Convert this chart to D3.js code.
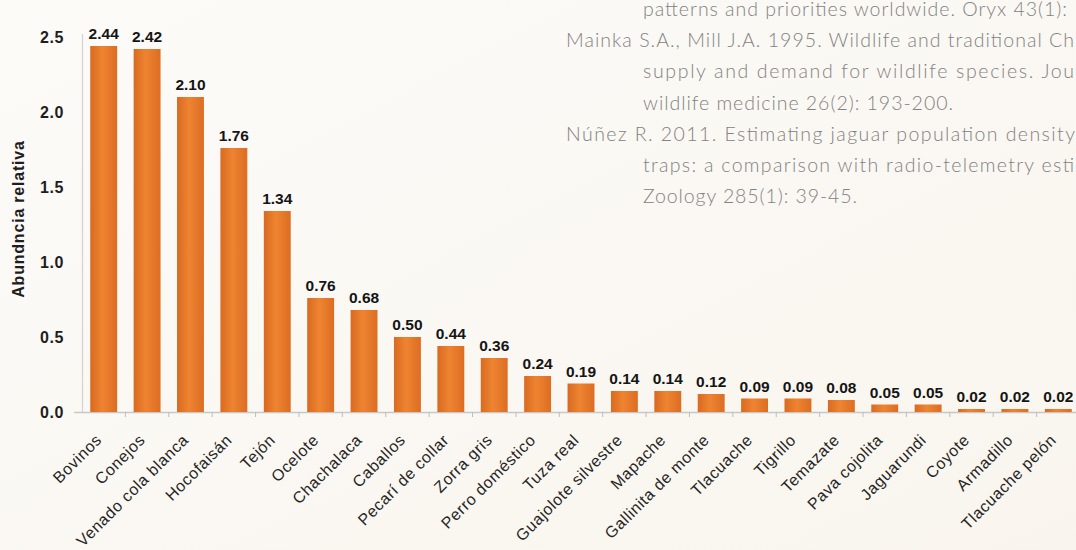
<!DOCTYPE html>
<html>
<head>
<meta charset="utf-8">
<script src="https://cdn.jsdelivr.net/npm/d3@7/dist/d3.min.js"></script>
<style>
html,body{margin:0;padding:0;background:#fbf9f5;overflow:hidden;}
svg{display:block;}
</style>
</head>
<body>
<svg id="chart" width="1076" height="550"></svg>
<script>
const categories = ["Bovinos","Conejos","Venado cola blanca","Hocofaisán","Tejón","Ocelote","Chachalaca","Caballos","Pecarí de collar","Zorra gris","Perro doméstico","Tuza real","Guajolote silvestre","Mapache","Gallinita de monte","Tlacuache","Tigrillo","Temazate","Pava cojolita","Jaguarundi","Coyote","Armadillo","Tlacuache pelón"];
const values = [2.44,2.42,2.10,1.76,1.34,0.76,0.68,0.50,0.44,0.36,0.24,0.19,0.14,0.14,0.12,0.09,0.09,0.08,0.05,0.05,0.02,0.02,0.02];
const yTicks = [0,0.5,1.0,1.5,2.0,2.5];
const yTitle = "Abundncia relativa";
// background page text, as far as it is visible in the picture
const refLines = [
  {indent:false, end:1067, text:"patterns and priorities worldwide. Oryx 43(1):"},
  {indent:true,  end:1074, text:"Mainka S.A., Mill J.A. 1995. Wildlife and traditional Ch"},
  {indent:false, end:1074, text:"supply and demand for wildlife species. Jou"},
  {indent:false, end:953,  text:"wildlife medicine 26(2): 193-200."},
  {indent:true,  end:1075, text:"Núñez R. 2011. Estimating jaguar population density"},
  {indent:false, end:1074, text:"traps: a comparison with radio-telemetry esti"},
  {indent:false, end:857,  text:"Zoology 285(1): 39-45."}
];

const svg = d3.select("#chart");
const W = 1076, H = 550;

const defs = svg.append("defs");
const bg = defs.append("linearGradient").attr("id","bg").attr("x1","0").attr("y1","0").attr("x2","1").attr("y2","1");
bg.append("stop").attr("offset","0").attr("stop-color","#fcfbf8");
bg.append("stop").attr("offset","1").attr("stop-color","#f9f5ee");
svg.append("rect").attr("width",W).attr("height",H).attr("fill","url(#bg)");

const barGrad = defs.append("linearGradient").attr("id","barg").attr("x1","0").attr("y1","0").attr("x2","1").attr("y2","0");
barGrad.append("stop").attr("offset","0").attr("stop-color","#d96a20");
barGrad.append("stop").attr("offset","0.45").attr("stop-color","#ee8431");
barGrad.append("stop").attr("offset","1").attr("stop-color","#dc6d23");

// background reference text
const refG = svg.append("g")
  .attr("font-family","Lato, 'Open Sans', sans-serif")
  .attr("font-weight",300)
  .attr("font-size",19.5)
  .attr("fill","#828282");
refG.selectAll("text").data(refLines).join("text")
  .attr("x", d => d.indent ? 566 : 643)
  .attr("y", (d,i) => 16 + i*31.2)
  .attr("textLength", d => d.end - (d.indent ? 566 : 643))
  .attr("lengthAdjust","spacing")
  .text(d => d.text);

const x0 = 82, x1 = 1080, yBase = 412, yTop = 37;
const x = d3.scaleBand().domain(categories).range([x0, x1]).paddingInner(0.38).paddingOuter(0.19);
const y = d3.scaleLinear().domain([0, 2.5]).range([yBase, yTop]);

// axis lines
svg.append("line").attr("x1",x0+0.5).attr("x2",x0+0.5).attr("y1",yTop-3).attr("y2",yBase)
  .attr("stroke","#d2d2d2").attr("stroke-width",1.2);
svg.append("line").attr("x1",x0-8).attr("x2",x1).attr("y1",yBase+0.5).attr("y2",yBase+0.5)
  .attr("stroke","#c8c8c8").attr("stroke-width",1.5);

// x ticks at band boundaries
const bounds = categories.slice(1).map((c,i) => (x(categories[i]) + x.bandwidth() + x(c)) / 2);
svg.append("g").selectAll("line").data(bounds).join("line")
  .attr("x1", d=>d).attr("x2", d=>d).attr("y1", yBase).attr("y2", yBase+5)
  .attr("stroke","#bdbdbd").attr("stroke-width",1);

// y axis labels
const yAxis = svg.append("g").attr("transform",`translate(${x0},0)`)
  .call(d3.axisLeft(y).tickValues(yTicks).tickFormat(d3.format(".1f")).tickSize(0).tickPadding(18));
yAxis.select(".domain").remove();
yAxis.selectAll("text")
  .attr("font-family","'Liberation Sans', Arial, sans-serif")
  .attr("font-weight","bold").attr("font-size",16).attr("letter-spacing",0.6).attr("fill","#1e1e1e");

// y title
svg.append("text")
  .attr("transform","translate(24,219) rotate(-90)")
  .attr("text-anchor","middle")
  .attr("font-family","'Liberation Sans', Arial, sans-serif")
  .attr("font-weight","bold").attr("font-size",16).attr("letter-spacing",0.8).attr("fill","#1e1e1e")
  .text(yTitle);

// bars
svg.append("g").selectAll("rect").data(values).join("rect")
  .attr("x", (d,i) => x(categories[i]))
  .attr("width", x.bandwidth())
  .attr("y", d => y(d))
  .attr("height", d => Math.max(1.5, yBase - y(d)))
  .attr("fill","url(#barg)");

// value labels
svg.append("g").selectAll("text").data(values).join("text")
  .attr("x", (d,i) => x(categories[i]) + x.bandwidth()/2)
  .attr("y", d => y(d) - 7)
  .attr("text-anchor","middle")
  .attr("font-family","'Liberation Sans', Arial, sans-serif")
  .attr("font-weight","bold").attr("font-size",15.5).attr("fill","#151515")
  .text(d => d3.format(".2f")(d));

// category labels
svg.append("g").selectAll("text").data(categories).join("text")
  .attr("transform", c => `translate(${x(c) + x.bandwidth()/2 - 1},${yBase + 29}) rotate(-45)`)
  .attr("text-anchor","end")
  .attr("font-family","'Liberation Sans', Arial, sans-serif")
  .attr("font-size",16).attr("letter-spacing",0.6).attr("fill","#262626")
  .text(c => c);
</script>
</body>
</html>
